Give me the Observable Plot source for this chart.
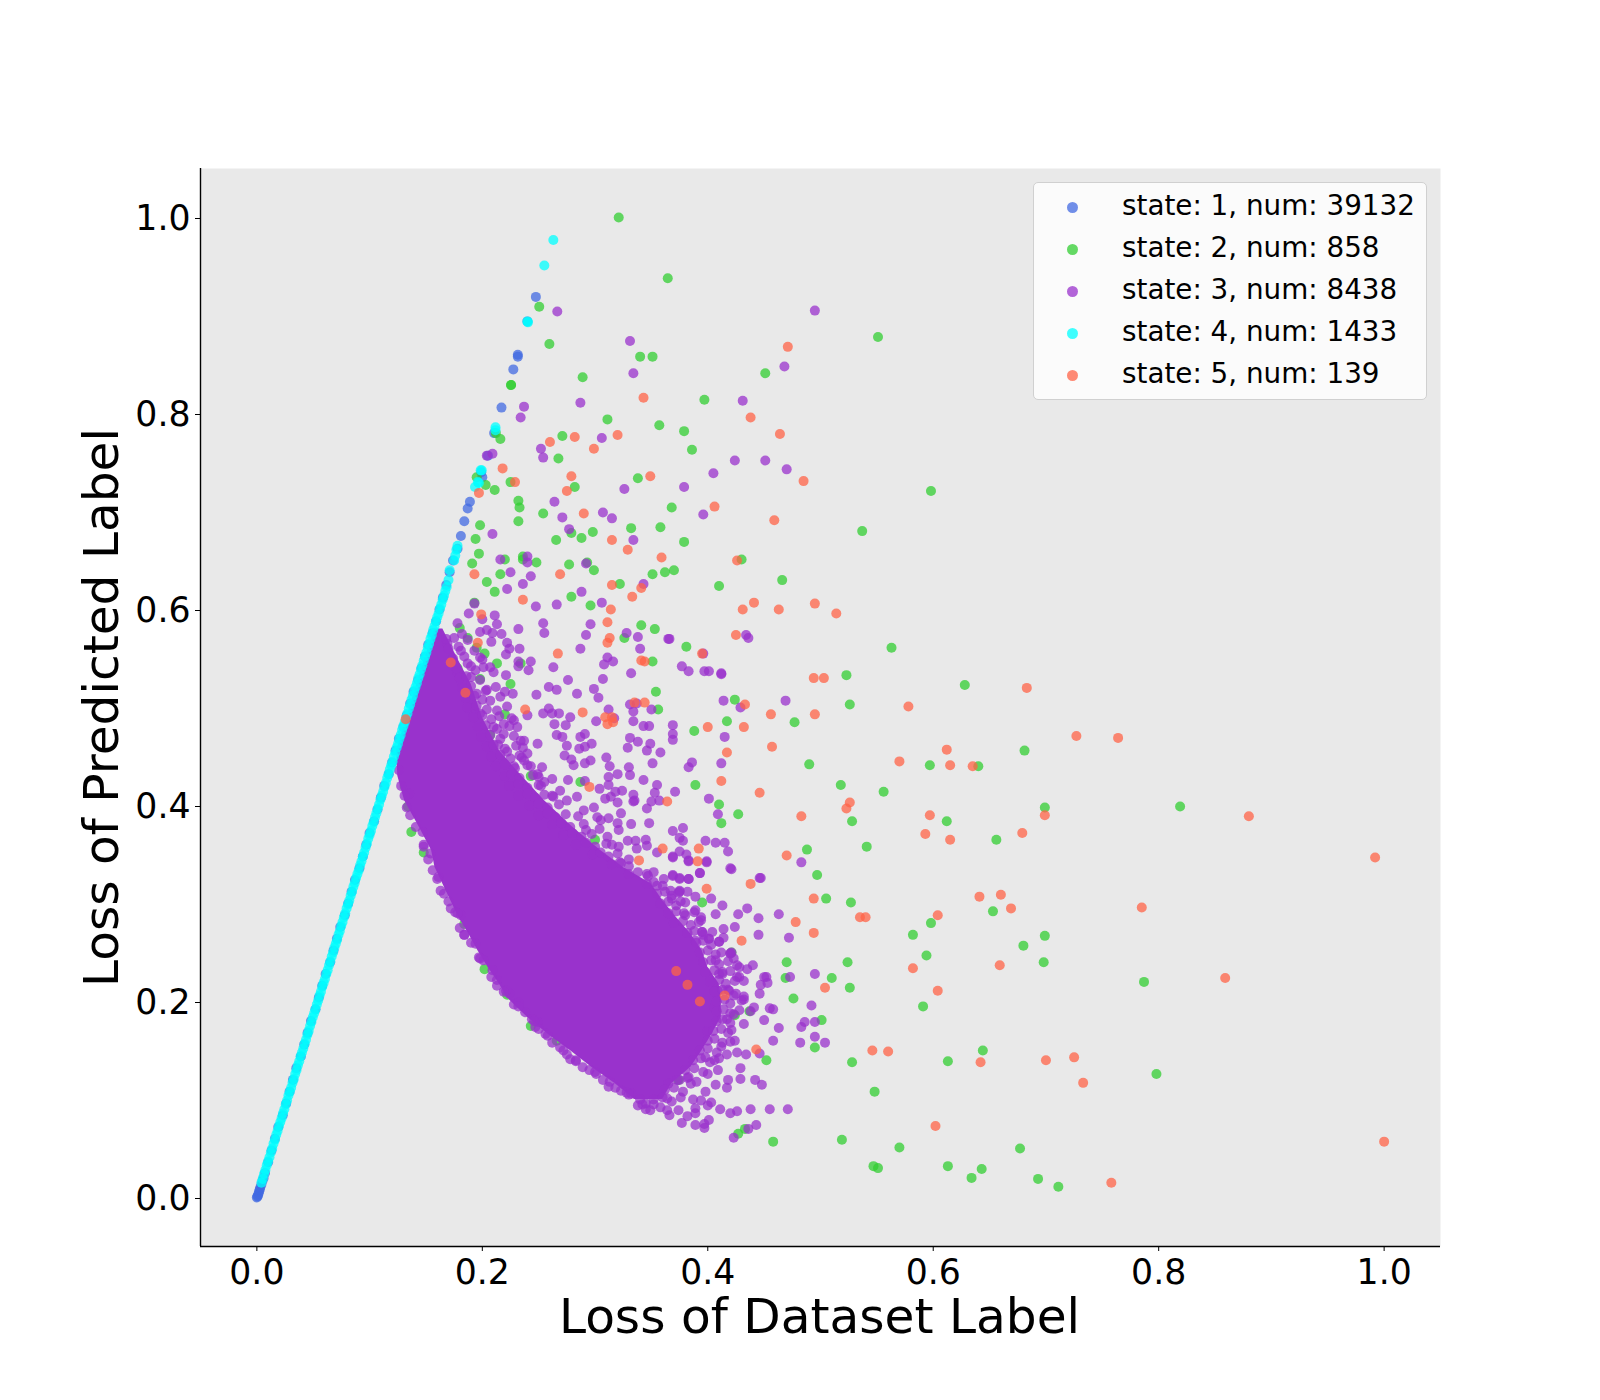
<!DOCTYPE html>
<html><head><meta charset="utf-8">
<script src="https://cdn.jsdelivr.net/npm/d3@7"></script>
<script src="https://cdn.jsdelivr.net/npm/@observablehq/plot@0.6"></script>
<style>
body{margin:0;background:#fff;font-family:"DejaVu Sans",sans-serif}
#wrap{position:relative;width:1600px;height:1400px}
#legend{position:absolute;left:1033px;top:182px;width:394px;height:218px;box-sizing:border-box;border:1.4px solid #d0d0d0;border-radius:5px;background:rgba(255,255,255,.8)}
.row{position:absolute;left:0;height:42px;line-height:42px;font-size:27.8px;color:#000;white-space:pre}
.dot{position:absolute;left:33px;top:15px;width:11px;height:11px;border-radius:50%;opacity:.75}
.lab{position:absolute;left:88px;top:-2px}
</style></head><body><div id="wrap"></div>
<script>
const axisTicks=[0,0.2,0.4,0.6,0.8,1.0];
const legendStates=[1,2,3,4,5];
const legendCounts=[39132,858,8438,1433,139];
const stateColors=["#4169E1","#32CD32","#9932CC","#00FFFF","#FF6347"];

// purple saturated core: extent read per loss-of-predicted-label band
const coreY=[.58,.55,.524,.49,.456,.43,.405,.378,.354,.337,.32,.303,.286,.269,.252,.235,.218,.204,.184,.165,.15,.133,.116,.1];
const coreLeft=[.158,.149,.142,.133,.124,.125,.131,.144,.155,.158,.165,.172,.179,.188,.196,.205,.215,.222,.24,.26,.278,.297,.318,.335];
const coreRight=[.165,.178,.19,.2,.215,.235,.255,.28,.305,.325,.35,.36,.372,.385,.395,.4,.41,.412,.412,.403,.395,.385,.368,.36];

const state1=[[0,0],[.0005,.001],[.001,.002],[.0015,.004],[.002,.006],[.0025,.008],[.003,.01],[.004,.013],[.005,.017],[.006,.02],[.0072,.025],[.01,.036],[.013,.048],[.016,.06],[.019,.072],[.023,.084],[.026,.096],[.029,.108],[.032,.12],[.035,.132],[.039,.144],[.042,.156],[.045,.168],[.048,.18],[.052,.192],[.055,.204],[.058,.216],[.061,.228],[.065,.24],[.068,.252],[.071,.264],[.074,.276],[.078,.288],[.081,.3],[.084,.312],[.087,.324],[.091,.336],[.094,.348],[.097,.36],[.1,.372],[.104,.384],[.107,.396],[.11,.408],[.113,.42],[.117,.432],[.12,.444],[.123,.456],[.126,.468],[.13,.48],[.133,.492],[.136,.504],[.139,.516],[.143,.528],[.146,.54],[.149,.552],[.152,.564],[.156,.576],[.159,.588],[.162,.6],[.165,.612],[.168,.625],[.171,.638],[.174,.65],[.178,.662],[.181,.675],[.184,.69],[.187,.703],[.189,.71],[.199,.74],[.2,.735],[.205,.757],[.2105,.78],[.217,.806],[.2275,.845],[.2315,.86],[.2315,.858],[.24,.894],[.2475,.919]];

const state2=[[.321,1.0],[.3645,.938],[.2505,.909],[.2595,.871],[.551,.878],[.289,.837],[.34,.858],[.351,.858],[.451,.841],[.397,.814],[.311,.794],[.357,.788],[.379,.782],[.386,.763],[.271,.777],[.282,.725],[.2675,.754],[.2255,.829],[.2255,.829],[.216,.774],[.212,.78],[.225,.73],[.232,.711],[.233,.704],[.232,.69],[.254,.698],[.2655,.671],[.279,.678],[.288,.673],[.298,.679],[.332,.683],[.358,.684],[.368,.704],[.379,.669],[.338,.734],[.43,.651],[.598,.721],[.537,.68],[.466,.63],[.41,.624],[.37,.64],[.362,.638],[.351,.636],[.322,.626],[.299,.64],[.293,.648],[.277,.646],[.236,.654],[.236,.651],[.248,.648],[.563,.561],[.628,.523],[.523,.533],[.526,.503],[.477,.485],[.49,.442],[.518,.421],[.556,.414],[.597,.441],[.64,.44],[.681,.456],[.819,.399],[.699,.398],[.612,.384],[.656,.365],[.528,.384],[.541,.358],[.488,.355],[.497,.329],[.505,.305],[.527,.301],[.582,.268],[.598,.28],[.699,.267],[.653,.292],[.68,.257],[.698,.24],[.787,.22],[.594,.247],[.524,.24],[.47,.24],[.469,.224],[.476,.203],[.51,.224],[.526,.214],[.591,.195],[.501,.181],[.495,.153],[.644,.15],[.528,.138],[.613,.139],[.548,.108],[.798,.126],[.452,.14],[.458,.057],[.519,.059],[.57,.051],[.547,.032],[.551,.03],[.613,.032],[.634,.02],[.643,.029],[.677,.05],[.693,.019],[.711,.011],[.433,.07],[.388,.476],[.389,.421],[.41,.401],[.427,.391],[.412,.382],[.424,.508],[.417,.486],[.356,.498],[.354,.516],[.351,.547],[.381,.562],[.353,.58],[.341,.584],[.326,.571],[.296,.604],[.279,.613],[.193,.607],[.204,.628],[.191,.647],[.197,.657],[.22,.651],[.216,.636],[.211,.618],[.18,.581],[.187,.571],[.195,.561],[.202,.555],[.178,.54],[.198,.529],[.213,.545],[.225,.524],[.234,.545],[.22,.493],[.207,.472],[.216,.446],[.243,.43],[.219,.41],[.239,.389],[.134,.399],[.131,.42],[.137,.373],[.148,.352],[.171,.316],[.184,.279],[.202,.233],[.243,.175],[.266,.16],[.222,.207],[.198,.686],[.194,.672],[.195,.735],[.203,.727],[.211,.722],[.287,.424],[.3,.365],[.395,.301],[.421,.25],[.424,.186],[.437,.19],[.374,.12],[.427,.065]];

const state3=[[.2665,.904],[.495,.905],[.331,.874],[.468,.848],[.334,.841],[.431,.813],[.237,.807],[.234,.796],[.287,.811],[.252,.764],[.254,.755],[.306,.775],[.209,.759],[.204,.757],[.424,.752],[.451,.752],[.47,.743],[.405,.739],[.379,.725],[.326,.723],[.264,.71],[.271,.694],[.307,.699],[.315,.693],[.396,.697],[.277,.682],[.334,.671],[.209,.677],[.216,.651],[.24,.654],[.24,.648],[.292,.647],[.288,.618],[.225,.638],[.222,.621],[.243,.634],[.236,.626],[.266,.605],[.2475,.603],[.306,.607],[.365,.57],[.397,.537],[.412,.535],[.469,.507],[.434,.574],[.343,.626],[.2,.59],
[.193,.606],[.188,.596],[.211,.594],[.213,.585],[.178,.586],[.254,.586],[.232,.58],[.296,.585],[.255,.576],[.292,.574],[.328,.576],[.338,.572],[.366,.57],[.436,.571],[.198,.577],[.204,.579],[.182,.575],[.209,.576],[.217,.575],[.208,.567],[.222,.566],[.224,.56],[.221,.554],[.233,.56],[.287,.56],[.34,.56],[.396,.555],[.243,.547],[.232,.547],[.232,.542],[.241,.538],[.263,.541],[.311,.551],[.316,.547],[.308,.544],[.332,.535],[.377,.542],[.383,.537],[.401,.537],[.412,.534],[.221,.533],[.276,.528],[.307,.529],[.299,.519],[.259,.521],[.266,.518],[.284,.514],[.303,.51],[.248,.513],[.227,.514],[.22,.516],[.21,.536],[.414,.507],[.331,.503],[.337,.504],[.334,.496],[.312,.498],[.35,.498],[.429,.5],[.259,.499],[.254,.494],[.262,.494],[.268,.494],[.278,.49],[.301,.486],[.317,.489],[.334,.486],[.343,.481],[.348,.481],[.369,.482],[.369,.473],[.369,.467],[.264,.483],[.274,.482],[.415,.47],[.266,.472],[.271,.47],[.287,.47],[.291,.473],[.331,.469],[.338,.465],[.349,.463],[.329,.459],[.346,.456],[.358,.454],[.297,.463],[.291,.46],[.286,.458],[.275,.461],[.273,.451],[.279,.447],[.281,.441],[.296,.446],[.291,.443],[.31,.449],[.313,.44],[.33,.439],[.351,.443],[.386,.444],[.383,.439],[.412,.443],[.253,.439],[.262,.427],[.276,.426],[.291,.425],[.312,.429],[.32,.432],[.331,.431],[.343,.426],[.355,.421],[.312,.421],[.304,.417],[.324,.415],[.318,.414],[.353,.413],[.371,.414],[.334,.411],[.335,.405],[.334,.404],[.309,.407],[.314,.409],[.32,.403],[.346,.397],[.35,.404],[.357,.405],[.401,.407],[.409,.391],[.323,.392],[.312,.387],[.32,.382],[.348,.382],[.321,.375],[.332,.381],[.304,.376],[.369,.374],[.378,.377],[.375,.367],[.378,.364],[.311,.368],[.329,.364],[.336,.364],[.345,.365],[.346,.359],[.337,.356],[.321,.358],[.398,.364],[.407,.362],[.415,.362],[.418,.353],[.375,.353],[.369,.348],[.381,.35],[.383,.343],[.355,.352],[.399,.343],[.42,.336],[.393,.331],[.369,.329],[.375,.326],[.383,.325],[.446,.326],[.352,.332],
[.369,.347],[.383,.344],[.399,.342],[.393,.331],[.421,.335],[.447,.326],[.483,.342],[.369,.328],[.375,.325],[.383,.325],[.375,.312],[.382,.312],[.389,.307],[.403,.305],[.413,.298],[.435,.295],[.427,.289],[.407,.289],[.445,.285],[.463,.289],[.414,.274],[.424,.276],[.445,.268],[.472,.265],[.395,.271],[.401,.264],[.414,.265],[.41,.261],[.421,.25],[.423,.244],[.44,.237],[.435,.233],[.428,.235],[.452,.225],[.447,.217],[.453,.219],[.473,.225],[.495,.228],[.446,.208],[.432,.221],[.418,.212],[.425,.208],[.432,.202],[.441,.194],[.438,.19],[.455,.193],[.458,.192],[.492,.196],[.45,.181],[.463,.173],[.483,.174],[.486,.179],[.495,.179],[.432,.177],[.421,.171],[.458,.16],[.482,.158],[.495,.164],[.504,.158],[.424,.16],[.446,.147],[.434,.146],[.426,.148],[.417,.146],[.41,.142],[.398,.143],[.429,.132],[.409,.13],[.429,.121],[.418,.12],[.442,.12],[.448,.115],[.407,.115],[.417,.112],[.398,.108],[.365,.116],[.332,.106],[.375,.12],[.383,.123],[.394,.099],[.387,.1],[.403,.097],[.4,.094],[.389,.091],[.389,.086],[.411,.09],[.42,.086],[.426,.088],[.438,.09],[.455,.09],[.471,.09],[.382,.083],[.377,.076],[.389,.074],[.401,.079],[.397,.075],[.397,.071],[.443,.074],[.436,.07],[.423,.061],[.366,.084],[.364,.089],[.374,.089],[.349,.089],[.338,.094],[.228,.197],[.213,.216],[.184,.268],[.247,.174],[.249,.179],[.278,.141],[.312,.113],[.323,.109],
[.126,.436],[.135,.412],[.133,.398],[.141,.378],[.147,.373],[.148,.358],[.154,.351],[.156,.334],[.161,.327],[.163,.313],[.17,.302],[.176,.291],[.181,.288],[.184,.268],[.194,.259],[.198,.244],[.213,.222],[.224,.208],[.178,.29],[.201,.242],[.209,.232],[.221,.211],[.238,.189],[.256,.167],[.262,.158],[.269,.153],[.289,.133],[.301,.126],[.232,.199],[.244,.182],[.25,.172],[.275,.146],[.283,.139],[.295,.13],[.307,.12],[.318,.112],[.328,.107],[.34,.1],[.345,.096],[.352,.095],
[.21,.48],[.219,.473],[.234,.466],[.24,.453],[.237,.446],[.249,.432],[.255,.424],[.269,.415],[.284,.409],[.299,.398],[.302,.388],[.292,.375],[.323,.341],[.346,.33],[.361,.325],[.375,.313],[.376,.302],[.389,.293],[.394,.283],[.395,.271],[.401,.264],[.412,.25],[.42,.249],[.426,.237],[.413,.228],[.428,.225],[.419,.211],[.432,.205],[.45,.225],
[.169,.565],[.181,.558],[.187,.545],[.198,.551],[.201,.541],[.178,.536],[.19,.531],[.203,.517],[.195,.514],[.207,.507],[.213,.497],[.198,.494],[.219,.483],[.228,.487],[.231,.48],[.24,.492],[.237,.466],[.249,.463],[.235,.449],
[.367,.313],[.379,.29],[.394,.286],[.389,.262],[.407,.242],[.42,.249],[.413,.23],[.426,.225],[.409,.211],[.423,.206],[.406,.194],[.417,.182],[.423,.187],[.4,.17],[.42,.159],[.412,.154],[.406,.14],[.4,.126],[.385,.116],[.376,.102],[.364,.101],
[.214,.462],[.222,.455],[.228,.44],[.243,.44],[.252,.42],[.262,.41],[.275,.405],[.29,.395],[.305,.385],[.315,.36],[.33,.345],[.355,.318],[.368,.305]];

// state 3 points hugging the dense mass, read along its fuzzy edges
const state3Edge=[[.168,.57],[.175,.571],[.187,.569],[.17,.56],[.179,.562],[.193,.558],[.174,.55],[.184,.552],[.2,.549],[.177,.54],[.19,.542],[.194,.538],[.207,.541],[.18,.53],[.186,.532],[.198,.528],[.182,.52],[.19,.522],[.204,.518],[.212,.521],[.185,.51],[.193,.512],[.2,.508],[.216,.511],[.187,.5],[.195,.502],[.204,.498],[.222,.501],[.192,.49],[.2,.492],[.208,.488],[.215,.491],[.226,.489],[.196,.48],[.203,.482],[.213,.478],[.224,.481],[.199,.47],[.207,.472],[.216,.468],[.228,.471],[.204,.46],[.21,.462],[.22,.458],[.23,.461],[.236,.459],[.208,.45],[.216,.452],[.225,.448],[.233,.451],[.212,.44],[.22,.442],[.229,.438],[.24,.441],[.22,.43],[.226,.432],[.233,.428],[.245,.431],[.25,.429],[.224,.42],[.232,.422],[.24,.418],[.25,.421],[.232,.41],[.24,.412],[.247,.408],[.255,.411],[.263,.409],[.242,.4],[.25,.402],[.258,.398],[.268,.401],[.25,.39],[.258,.392],[.265,.388],[.274,.391],[.285,.389],[.262,.38],[.27,.382],[.278,.378],[.29,.381],[.272,.37],[.28,.372],[.288,.368],[.297,.371],[.283,.36],[.292,.362],[.3,.358],[.31,.361],[.298,.35],[.305,.352],[.312,.348],[.32,.351],[.315,.34],[.322,.342],[.33,.338],[.33,.33],[.338,.332],[.347,.328],[.346,.32],[.352,.322],[.36,.318],[.355,.31],[.362,.312],[.368,.308],[.374,.311],[.358,.3],[.365,.302],[.372,.298],[.38,.301],[.365,.29],[.372,.292],[.38,.288],[.388,.291],[.37,.28],[.378,.282],[.385,.278],[.392,.281],[.382,.27],[.388,.272],[.396,.268],[.404,.271],[.39,.26],[.396,.262],[.403,.258],[.41,.261],[.393,.25],[.4,.252],[.407,.248],[.396,.24],[.403,.242],[.41,.238],[.418,.241],[.398,.23],[.406,.232],[.41,.228],[.42,.231],[.402,.22],[.41,.222],[.416,.218],[.424,.221],[.406,.21],[.413,.212],[.408,.2],[.415,.202],[.42,.198],[.43,.201],[.408,.19],[.414,.192],[.42,.188],[.428,.191],[.408,.18],[.413,.182],[.42,.178],[.405,.17],[.412,.172],[.418,.168],[.4,.16],[.406,.162],[.413,.158],[.393,.15],[.4,.152],[.408,.148],[.387,.14],[.394,.142],[.402,.138],[.38,.13],[.388,.132],[.396,.128],[.373,.12],[.382,.122],[.39,.118],[.362,.11],[.37,.112],[.378,.108],[.352,.1],[.36,.102],[.368,.098],[.345,.09],[.358,.092],[.128,.42],[.131,.41],[.136,.39],[.148,.36],[.152,.345],[.16,.325],[.166,.31],[.172,.295],[.18,.275],[.19,.26],[.197,.245],[.208,.225],[.219,.21],[.232,.195],[.246,.18],[.258,.165],[.272,.15],[.283,.14],[.3,.128],[.313,.118],[.33,.105],[.342,.095]];

const state4=[[.004,.015],[.0052,.019],[.0064,.024],[.0076,.028],[.0088,.033],[.01,.037],[.0112,.041],[.0124,.046],[.0136,.05],[.0148,.055],[.016,.059],[.0172,.064],[.0184,.068],[.0196,.073],[.0208,.077],[.022,.081],[.0232,.086],[.0244,.09],[.0256,.095],[.0268,.099],[.028,.104],[.0292,.108],[.0304,.112],[.0316,.117],[.0328,.121],[.034,.126],[.0352,.13],[.0364,.135],[.0376,.139],[.0388,.144],[.04,.148],[.0412,.152],[.0424,.157],[.0436,.161],[.0448,.166],[.046,.17],[.0472,.175],[.0484,.179],[.0496,.184],[.0508,.188],[.052,.192],[.0532,.197],[.0544,.201],[.0556,.206],[.0568,.21],[.058,.215],[.0592,.219],[.0604,.223],[.0616,.228],[.0628,.232],[.064,.237],[.0652,.241],[.0664,.246],[.0676,.25],[.0688,.255],[.07,.259],[.0712,.263],[.0724,.268],[.0736,.272],[.0748,.277],[.076,.281],[.0772,.286],[.0784,.29],[.0796,.295],[.0808,.299],[.082,.303],[.0832,.308],[.0844,.312],[.0856,.317],[.0868,.321],[.088,.326],[.0892,.33],[.0904,.334],[.0916,.339],[.0928,.343],[.094,.348],[.0952,.352],[.0964,.357],[.0976,.361],[.0988,.366],[.1,.37],[.1012,.374],[.1024,.379],[.1036,.383],[.1048,.388],[.106,.392],[.1072,.397],[.1084,.401],[.1096,.406],[.1108,.41],[.112,.414],[.1132,.419],[.1144,.423],[.1156,.428],[.1168,.432],[.118,.437],[.1192,.441],[.1204,.445],[.1216,.45],[.1228,.454],[.124,.459],[.1252,.463],[.1264,.468],[.1276,.472],[.1288,.477],[.13,.481],[.1312,.485],[.1324,.49],[.1336,.494],[.1348,.499],[.136,.503],[.1372,.508],[.1384,.512],[.1396,.517],[.1408,.521],[.142,.525],[.1432,.53],[.1444,.534],[.1456,.539],[.1468,.543],[.148,.548],[.1492,.552],[.1504,.556],[.1516,.561],[.1528,.565],[.154,.57],[.1552,.574],[.1564,.579],[.1576,.583],[.1588,.588],[.16,.592],[.1612,.596],[.1624,.601],[.1636,.605],[.1648,.61],[.166,.614],[.1672,.619],[.1684,.623],[.17,.63],[.171,.64],[.175,.65],[.176,.655],[.177,.661],[.178,.665],[.1935,.725],[.196,.73],[.197,.729],[.1985,.742],[.1995,.742],[.2117,.786],[.2117,.783],[.24,.894],[.2405,.893],[.255,.951],[.263,.977]];

const state5=[[.471,.868],[.343,.816],[.438,.796],[.464,.779],[.485,.731],[.26,.771],[.282,.776],[.32,.778],[.299,.764],[.218,.744],[.197,.719],[.229,.73],[.279,.736],[.275,.721],[.349,.736],[.406,.705],[.459,.691],[.29,.698],[.315,.671],[.329,.661],[.359,.653],[.426,.65],[.341,.622],[.315,.625],[.333,.613],[.269,.636],[.193,.636],[.236,.61],[.199,.595],[.314,.6],[.431,.6],[.441,.607],[.463,.6],[.495,.606],[.514,.596],[.425,.574],[.311,.587],[.313,.571],[.311,.566],[.341,.548],[.344,.547],[.395,.555],[.267,.555],[.172,.546],[.196,.566],[.238,.498],[.289,.495],[.309,.49],[.315,.49],[.311,.483],[.316,.485],[.335,.505],[.344,.505],[.185,.515],[.132,.488],[.433,.503],[.456,.493],[.495,.493],[.494,.53],[.503,.53],[.683,.52],[.578,.501],[.4,.48],[.432,.48],[.457,.46],[.417,.454],[.57,.445],[.612,.457],[.615,.441],[.635,.44],[.727,.471],[.764,.469],[.412,.425],[.446,.413],[.364,.404],[.295,.419],[.526,.403],[.523,.397],[.483,.389],[.699,.39],[.597,.39],[.88,.389],[.679,.372],[.593,.371],[.615,.365],[.992,.347],[.36,.356],[.392,.356],[.391,.343],[.339,.344],[.47,.349],[.438,.32],[.399,.315],[.494,.305],[.785,.296],[.66,.309],[.641,.307],[.669,.295],[.604,.288],[.535,.286],[.54,.286],[.478,.281],[.494,.27],[.43,.262],[.582,.234],[.659,.237],[.604,.211],[.859,.224],[.372,.231],[.382,.217],[.393,.2],[.415,.206],[.504,.214],[.546,.15],[.56,.149],[.443,.151],[.642,.138],[.7,.14],[.725,.143],[.733,.117],[.602,.073],[.758,.015],[1.0,.057]];

const dots=(data,i)=>Plot.dot(data,{x:d=>d[0],y:d=>d[1],r:5,fill:stateColors[i],fillOpacity:.75,stroke:"none"});

const chart=Plot.plot({
  width:1600,height:1400,
  marginLeft:200,marginRight:160,marginTop:168,marginBottom:154,
  style:{fontFamily:"DejaVu Sans",background:"#fff",color:"#000"},
  x:{domain:[-.05,1.05]},
  y:{domain:[-.05,1.05]},
  marks:[
    Plot.frame({fill:"#e9e9e9",stroke:"none"}),
    dots(state1,0),
    dots(state2,1),
    Plot.areaX(coreY.map((y,i)=>({y,x1:coreLeft[i],x2:coreRight[i]})),{y:"y",x1:"x1",x2:"x2",fill:stateColors[2]}),
    dots(state3,2),
    dots(state3Edge,2),
    dots(state4,3),
    dots(state5,4),
    Plot.ruleX([-.05],{stroke:"#000",strokeWidth:1.4}),
    Plot.ruleY([-.05],{stroke:"#000",strokeWidth:1.4}),
    Plot.axisX({ticks:axisTicks,tickFormat:d3.format(".1f"),fontSize:34.7,tickSize:5,tickPadding:8,label:null,anchor:"bottom"}),
    Plot.axisY({ticks:axisTicks,tickFormat:d3.format(".1f"),fontSize:34.7,tickSize:5,tickPadding:5,label:null,anchor:"left",dy:1}),
    Plot.text(["Loss of Dataset Label"],{frameAnchor:"bottom",dx:-1,dy:86,fontSize:48.6,fill:"#000"}),
    Plot.text(["Loss of Predicted Label"],{frameAnchor:"left",textAnchor:"middle",rotate:-90,dx:-98,fontSize:48.6,fill:"#000"})
  ]
});
const wrap=document.getElementById("wrap");
wrap.appendChild(chart);
const legend=document.createElement("div");legend.id="legend";
legendStates.forEach((s,i)=>{
  const row=document.createElement("div");row.className="row";row.style.top=(i*42+4)+"px";row.style.width="100%";
  const dot=document.createElement("span");dot.className="dot";dot.style.background=stateColors[i];
  const lab=document.createElement("span");lab.className="lab";lab.textContent=`state: ${s}, num: ${legendCounts[i]}`;
  row.append(dot,lab);legend.appendChild(row);
});
wrap.appendChild(legend);
</script></body></html>
